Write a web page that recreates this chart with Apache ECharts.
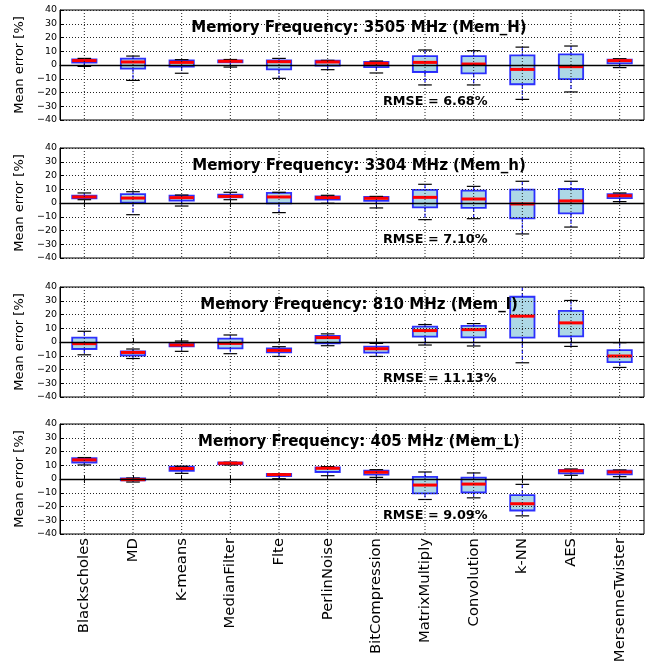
<!DOCTYPE html>
<html><head><meta charset="utf-8">
<script src="https://cdn.jsdelivr.net/npm/echarts@6/dist/echarts.min.js"></script>
<style>html,body{margin:0;padding:0;background:#fff}#c{width:648px;height:668px}</style>
</head><body><div id="c"></div>
<script>
const categories = ['Blackscholes','MD','K-means','MedianFilter','Flte','PerlinNoise','BitCompression','MatrixMultiply','Convolution','k-NN','AES','MersenneTwister'];
const panelTitles = ['Memory Frequency: 3505 MHz (Mem_H)','Memory Frequency: 3304 MHz (Mem_h)','Memory Frequency: 810 MHz (Mem_l)','Memory Frequency: 405 MHz (Mem_L)'];
const rmseLabels = ['RMSE = 6.68%','RMSE = 7.10%','RMSE = 11.13%','RMSE = 9.09%'];
const yMin = -40, yMax = 40, yStep = 10;
// each entry: [lower whisker, Q1, median, Q3, upper whisker]
const memH = [[-1,1.7,3.2,4.1,4.8],[-11.2,-2.7,2.2,4.6,6.5],[-6,-1.2,1.9,3.4,3.9],[-1.5,2.0,2.7,3.4,4],[-9.7,-3.2,2.4,3.4,4.8],[-3.4,-0.5,2.2,3.2,3.4],[-5.8,-1.5,1.2,2.2,2.9],[-14.5,-5.1,1.9,6.5,10.9],[-14.5,-6.1,0.7,6.5,10.4],[-25,-14,-3.2,7,13],[-19.6,-10.2,-1.2,7.8,13.8],[-1.9,1.2,3.2,3.9,4.6]];
const memh = [[2.4,3.4,4.4,5.3,7.3],[-8.5,0.2,3.6,6.5,8.2],[-2.2,1.7,3.9,5.3,5.8],[2.4,4.1,4.8,6.1,7.8],[-7,-0.2,4.4,7.3,7.8],[-0.2,2.4,3.9,4.8,5.6],[-3.6,1.5,3.4,4.4,4.8],[-12.1,-3.2,4.1,9.5,13.6],[-11.4,-3.6,2.9,9,12.1],[-22.5,-11.2,-0.7,9.7,15.8],[-17.5,-7.5,1.5,10.2,15.8],[1,3.6,5.3,6.5,7.3]];
const meml = [[-9.3,-5.1,-1.2,3.2,7.8],[-12,-9.8,-7.6,-6.8,-5.1],[-6.8,-3.2,-2.2,-0.7,0.7],[-8.5,-4.6,-1,2.4,5.1],[-10.5,-7.6,-6.1,-4.6,-3.4],[-2.7,-1,3.2,4.4,5.9],[-10.5,-7.8,-4.9,-3.4,-1],[-2.2,3.9,8.3,11.2,12.7],[-2.9,3.4,9,11.7,13.4],[-15.1,3.2,18.8,32.9,45],[-3.2,4.1,13.9,22.7,30.2],[-18.5,-14.6,-10.2,-5.9,-0.5]];
const memL = [[10.2,12,13.9,15.1,15.6],[-2.2,-1,-0.5,0.5,0.7],[4.1,5.9,7.6,9,9.3],[10.2,10.7,11.5,12,12.2],[0.2,2.2,3.2,3.7,3.9],[2.4,5.1,7.8,8.5,9],[1.2,3.2,4.9,6.1,6.8],[-14.9,-10.5,-4.4,1.5,5.1],[-13.7,-9.8,-3.7,1,4.4],[-26.8,-22.9,-18,-11.7,-3.9],[2.7,4.1,5.9,6.6,7.3],[1.7,3.4,5.1,6.1,6.6]];
const panels = [memH, memh, meml, memL];

const gridTops = [10, 148, 287, 424];
const gridH = 110;
const FONT = '"DejaVu Sans", "Liberation Sans", sans-serif';

function renderBox(params, api) {
  const i = api.value(0);
  const lo = api.value(1), q1 = api.value(2), med = api.value(3), q3 = api.value(4), hi = api.value(5);
  const cs = params.coordSys;
  const band = api.size([1, 0])[0];
  const bw = band * 0.5, cw = band * 0.28;
  const x = api.coord([i, 0])[0];
  const top = cs.y, bot = cs.y + cs.height;
  const py = v => api.coord([i, v])[1];
  const cl = y => Math.max(top, Math.min(bot, y));
  const yLo = py(lo), yQ1 = py(q1), yMed = py(med), yQ3 = py(q3), yHi = py(hi);
  const children = [];
  const whisk = {stroke: '#1a1aff', lineWidth: 1.2, lineDash: [4, 2]};
  children.push({type: 'line', shape: {x1: x, y1: cl(yHi), x2: x, y2: yQ3}, style: whisk});
  children.push({type: 'line', shape: {x1: x, y1: yQ1, x2: x, y2: cl(yLo)}, style: whisk});
  children.push({type: 'rect', shape: {x: x - bw / 2, y: Math.min(yQ3, bot), width: bw, height: Math.max(1, Math.min(yQ1, bot) - cl(yQ3))},
    style: {fill: '#add8e6', stroke: 'rgba(0,0,255,0.8)', lineWidth: 1.8}});
  if (yHi >= top) children.push({type: 'line', shape: {x1: x - cw / 2, y1: yHi, x2: x + cw / 2, y2: yHi}, style: {stroke: '#000', lineWidth: 1.2}});
  if (yLo <= bot) children.push({type: 'line', shape: {x1: x - cw / 2, y1: yLo, x2: x + cw / 2, y2: yLo}, style: {stroke: '#000', lineWidth: 1.2}});
  children.push({type: 'line', shape: {x1: x - bw / 2, y1: yMed, x2: x + bw / 2, y2: yMed}, style: {stroke: '#ff0000', lineWidth: 3}});
  children.push({type: 'line', shape: {x1: x, y1: top, x2: x, y2: bot}, style: {stroke: '#222', lineWidth: 1, lineDash: [1, 2]}});
  return {type: 'group', children};
}

const grid = [], xAxis = [], yAxis = [], series = [], graphic = [];
const n = panels.length;
panels.forEach((vals, p) => {
  grid.push({left: 60, right: 4, top: gridTops[p], height: gridH, show: true, borderColor: '#000', borderWidth: 1, backgroundColor: 'transparent'});
  const isLast = p === n - 1;
  xAxis.push({type: 'category', gridIndex: p, data: categories, boundaryGap: true,
    axisLine: {show: true, lineStyle: {color: '#000', width: 1}},
    axisTick: {show: true, inside: true, alignWithLabel: true, length: 4, lineStyle: {color: '#000'}},
    axisLabel: {show: isLast, rotate: 90, interval: 0, margin: 4, fontSize: 14.8, color: '#000', fontFamily: FONT},
    splitLine: {show: false}});
  yAxis.push({type: 'value', gridIndex: p, min: yMin, max: yMax, interval: yStep, z: 5,
    name: 'Mean error [%]', nameLocation: 'middle', nameGap: 31,
    nameTextStyle: {fontSize: 13, color: '#000', fontFamily: FONT},
    axisLine: {show: true, lineStyle: {color: '#000', width: 1}},
    axisTick: {show: true, inside: true, length: 4, lineStyle: {color: '#000'}},
    axisLabel: {fontSize: 9.5, color: '#000', margin: 3, fontFamily: FONT, formatter: v => String(v).replace('-', '\u2212')},
    splitLine: {show: true, lineStyle: {color: '#222', width: 1, type: [1, 2]}}});
  series.push({type: 'custom', xAxisIndex: p, yAxisIndex: p, renderItem: renderBox,
    encode: {x: 0, y: [1, 2, 3, 4, 5]},
    data: vals.map((d, i) => [i].concat(d)),
    markLine: {silent: true, symbol: 'none', label: {show: false}, animation: false,
      lineStyle: {color: '#000', type: 'solid', width: 1.3}, data: [{yAxis: 0}]}});
  graphic.push({type: 'text', z: 100, x: 359, y: gridTops[p] + 18,
    style: {text: panelTitles[p], font: 'bold 15px ' + FONT, fill: '#000', textAlign: 'center', textVerticalAlign: 'middle', align: 'center', verticalAlign: 'middle'}});
  graphic.push({type: 'text', z: 100, x: 383, y: gridTops[p] + 92,
    style: {text: rmseLabels[p], font: 'bold 12.8px ' + FONT, fill: '#000', textAlign: 'left', textVerticalAlign: 'middle', align: 'left', verticalAlign: 'middle'}});
});
// mirrored tick-only axes on the top and right edges
panels.forEach((vals, p) => {
  xAxis.push({type: 'category', gridIndex: p, position: 'top', data: categories, boundaryGap: true,
    axisLine: {show: false}, axisLabel: {show: false}, splitLine: {show: false},
    axisTick: {show: true, inside: true, alignWithLabel: true, length: 4, lineStyle: {color: '#000'}}});
  yAxis.push({type: 'value', gridIndex: p, position: 'right', min: yMin, max: yMax, interval: yStep,
    axisLine: {show: false}, axisLabel: {show: false}, splitLine: {show: false},
    axisTick: {show: true, inside: true, length: 4, lineStyle: {color: '#000'}}});
});

const chart = echarts.init(document.getElementById('c'), null, {renderer: 'canvas'});
chart.setOption({animation: false, backgroundColor: '#fff', grid, xAxis, yAxis, series, graphic});
</script></body></html>
